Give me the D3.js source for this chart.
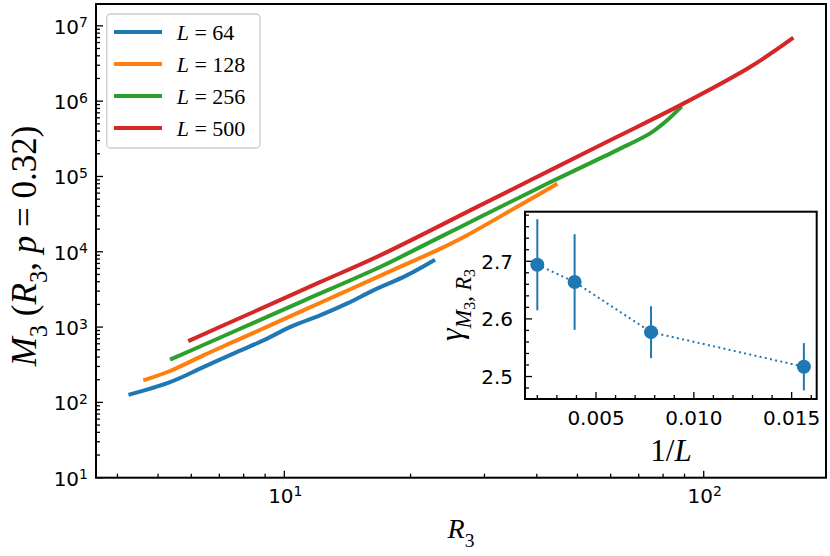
<!DOCTYPE html>
<html><head><meta charset="utf-8">
<script src="https://cdn.jsdelivr.net/npm/d3@7"></script>
<style>html,body{margin:0;padding:0;background:#fff;} svg{display:block;}</style>
</head><body><svg id="c" width="830" height="556"></svg>
<script>
// ---------------- data ----------------
const sizes = [64, 128, 256, 500];
const seriesColors = ["#1f77b4", "#ff7f0e", "#2ca02c", "#d62728"];

const R_L64  = [4.25, 5.34, 6.41, 7.70, 8.91, 10.41, 12.16, 14.09, 16.30, 19.58, 22.87];
const M_L64  = [126, 186, 294, 466, 665, 1021, 1429, 2047, 3069, 4864, 7852];

const R_L128 = [4.61, 5.34, 6.41, 7.70, 9.25, 11.10, 13.33, 16.01, 19.22, 23.09, 27.22, 35.83, 44.77];
const M_L128 = [196, 261, 421, 665, 1054, 1667, 2636, 4170, 6593, 10440, 16500, 39300, 80200];

const R_L256 = [5.34, 6.41, 8.44, 11.10, 16.91, 23.5, 29.3, 43.0, 62.0, 74.5, 81.3, 88.6];
const M_L256 = [369, 578, 1138, 2233, 6270, 15660, 28900, 83600, 222000, 373000, 540000, 853000];

const R_L500 = [5.90, 8.44, 12.16, 16.91, 29.3, 43.0, 62.0, 89.4, 129, 163.6];
const M_L500 = [652, 1587, 3945, 8950, 41300, 120500, 333600, 927000, 2840000, 6970000];

const invL     = [0.015625, 0.0078125, 0.00390625, 0.002];
const gamma    = [2.517, 2.577, 2.664, 2.694];
const gammaErr = [0.041, 0.045, 0.083, 0.079];

const mainYTickExp = [1, 2, 3, 4, 5, 6, 7];
const mainXTickExp = [1, 2];
const insetXTicks = [0.005, 0.010, 0.015];
const insetXTickLabels = ["0.005", "0.010", "0.015"];
const insetYTicks = [2.5, 2.6, 2.7];
const insetYTickLabels = ["2.5", "2.6", "2.7"];

const seriesR = [R_L64, R_L128, R_L256, R_L500];
const seriesM = [M_L64, M_L128, M_L256, M_L500];

// ---------------- drawing ----------------
const svg = d3.select("#c");
const SANS = "DejaVu Sans";
const SERIF = "Liberation Serif";
const TICK_FS = 20;

const x = d3.scaleLog().domain([3.556, 195.7]).range([96, 826]);
const y = d3.scaleLog().domain([10, Math.pow(10, 7.29)]).range([477.7, 4]);

function mathText(g, parts, size) {
  let prev = 0;
  parts.forEach(p => {
    const sh = (p.sh || 0) * size;
    g.append("tspan")
      .attr("font-style", p.it ? "italic" : "normal")
      .attr("font-size", (p.s || 1) * size)
      .attr("dy", sh - prev)
      .text(p.t);
    prev = sh;
  });
}

// lines
const line = d3.line().x(d => x(d[0])).y(d => y(d[1])).curve(d3.curveCatmullRom.alpha(0.5));
seriesR.forEach((R, i) => {
  const pts = R.map((r, j) => [r, seriesM[i][j]]);
  svg.append("path").attr("d", line(pts)).attr("fill", "none")
    .attr("stroke", seriesColors[i]).attr("stroke-width", 4).attr("stroke-linecap", "butt")
    .attr("stroke-linejoin", "round");
});

// main ticks
const xr = x.range(), yr = y.range();
const tk = svg.append("g").attr("stroke", "#000").attr("stroke-width", 1.3);
[1, 10, 100].forEach(d => {
  for (let m = 1; m <= 9; m++) {
    const v = m * d;
    if (v < x.domain()[0] || v > x.domain()[1]) continue;
    const len = m === 1 ? 7 : 4;
    tk.append("line").attr("x1", x(v)).attr("x2", x(v)).attr("y1", yr[0]).attr("y2", yr[0] - len);
  }
});
for (let e = 1; e <= 7; e++) {
  for (let m = 1; m <= 9; m++) {
    const v = m * Math.pow(10, e);
    if (v < y.domain()[0] || v > y.domain()[1]) continue;
    const len = m === 1 ? 7 : 4;
    tk.append("line").attr("y1", y(v)).attr("y2", y(v)).attr("x1", xr[0]).attr("x2", xr[0] + len);
  }
}
svg.append("rect").attr("x", xr[0]).attr("y", yr[1]).attr("width", xr[1] - xr[0]).attr("height", yr[0] - yr[1])
  .attr("fill", "none").attr("stroke", "#000").attr("stroke-width", 2);

// main tick labels
mainYTickExp.forEach(e => {
  const t = svg.append("text").attr("x", 88).attr("y", y(Math.pow(10, e)) + 8)
    .attr("text-anchor", "end").attr("font-family", SANS).attr("font-size", TICK_FS);
  t.append("tspan").text("10");
  t.append("tspan").attr("font-size", TICK_FS * 0.7).attr("dy", -6.5).text(String(e));
});
mainXTickExp.forEach(e => {
  const t = svg.append("text").attr("x", x(Math.pow(10, e)) + 1).attr("y", 502.5)
    .attr("text-anchor", "middle").attr("font-family", SANS).attr("font-size", TICK_FS);
  t.append("tspan").text("10");
  t.append("tspan").attr("font-size", TICK_FS * 0.7).attr("dy", -6.5).text(String(e));
});

// axis labels
const xl = svg.append("text").attr("x", 461).attr("y", 538.3).attr("text-anchor", "middle")
  .attr("font-family", SERIF).attr("font-size", 28);
mathText(xl, [{t: "R", it: true}, {t: "3", s: 0.7, sh: 0.3}], 28);

const yl = svg.append("text").attr("transform", "translate(36,246) rotate(-90)").attr("text-anchor", "middle")
  .attr("font-family", SERIF).attr("font-size", 35);
mathText(yl, [
  {t: "M", it: true}, {t: "3", s: 0.7, sh: 0.3},
  {t: " (", it: false}, {t: "R", it: true}, {t: "3", s: 0.7, sh: 0.3},
  {t: ", ", it: false}, {t: "p", it: true}, {t: " = 0.32)", it: false}
], 35);

// legend
const lg = svg.append("g");
lg.append("rect").attr("x", 106.7).attr("y", 14).attr("width", 153.3).attr("height", 134).attr("rx", 4)
  .attr("fill", "#fff").attr("fill-opacity", 0.8).attr("stroke", "#cccccc").attr("stroke-width", 1.3);
sizes.forEach((L, i) => {
  const ly = 32 + i * 32;
  lg.append("line").attr("x1", 114).attr("x2", 162).attr("y1", ly).attr("y2", ly)
    .attr("stroke", seriesColors[i]).attr("stroke-width", 4);
  const t = lg.append("text").attr("x", 176.7).attr("y", ly + 7.5).attr("font-family", SERIF).attr("font-size", 22);
  mathText(t, [{t: "L", it: true}, {t: " = " + L, it: false}], 22);
});

// ---------------- inset ----------------
const ix = d3.scaleLinear().domain([0.00137, 0.01628]).range([525, 816.7]);
const iy = d3.scaleLinear().domain([2.461, 2.786]).range([399, 211.7]);
const ixr = ix.range(), iyr = iy.range();
svg.append("rect").attr("x", ixr[0]).attr("y", iyr[1]).attr("width", ixr[1] - ixr[0]).attr("height", iyr[0] - iyr[1])
  .attr("fill", "#fff");

const itk = svg.append("g").attr("stroke", "#000").attr("stroke-width", 1.3);
for (let k = 2; k <= 16; k++) {
  const v = k * 0.001;
  const major = k % 5 === 0;
  itk.append("line").attr("x1", ix(v)).attr("x2", ix(v)).attr("y1", iyr[0]).attr("y2", iyr[0] - (major ? 7 : 4));
}
for (let k = 0; k <= 16; k++) {
  const vv = Math.round((2.46 + k * 0.02) * 100) / 100;
  if (vv < iy.domain()[0] || vv > iy.domain()[1]) continue;
  const major = Math.abs(vv * 10 - Math.round(vv * 10)) < 1e-6;
  itk.append("line").attr("y1", iy(vv)).attr("y2", iy(vv)).attr("x1", ixr[0]).attr("x2", ixr[0] + (major ? 7 : 4));
}

const pts = invL.map((v, i) => [v, gamma[i]]).sort((a, b) => a[0] - b[0]);
svg.append("path").attr("d", d3.line().x(d => ix(d[0])).y(d => iy(d[1]))(pts))
  .attr("fill", "none").attr("stroke", "#1f77b4").attr("stroke-width", 2).attr("stroke-dasharray", "2,3.3");
invL.forEach((v, i) => {
  svg.append("line").attr("x1", ix(v)).attr("x2", ix(v))
    .attr("y1", iy(gamma[i] - gammaErr[i])).attr("y2", iy(gamma[i] + gammaErr[i]))
    .attr("stroke", "#1f77b4").attr("stroke-width", 2);
});
invL.forEach((v, i) => {
  svg.append("circle").attr("cx", ix(v)).attr("cy", iy(gamma[i])).attr("r", 7).attr("fill", "#1f77b4");
});

svg.append("rect").attr("x", ixr[0]).attr("y", iyr[1]).attr("width", ixr[1] - ixr[0]).attr("height", iyr[0] - iyr[1])
  .attr("fill", "none").attr("stroke", "#000").attr("stroke-width", 2);

insetXTicks.forEach((v, i) => {
  svg.append("text").attr("x", ix(v)).attr("y", 424.5).attr("text-anchor", "middle")
    .attr("font-family", SANS).attr("font-size", TICK_FS).text(insetXTickLabels[i]);
});
insetYTicks.forEach((v, i) => {
  svg.append("text").attr("x", 513).attr("y", iy(v) + 7.3).attr("text-anchor", "end")
    .attr("font-family", SANS).attr("font-size", TICK_FS).text(insetYTickLabels[i]);
});

const ixl = svg.append("text").attr("x", 671).attr("y", 461).attr("text-anchor", "middle")
  .attr("font-family", SERIF).attr("font-size", 31);
mathText(ixl, [{t: "1/", it: false}, {t: "L", it: true}], 31);

const iyl = svg.append("text").attr("transform", "translate(462,305) rotate(-90)").attr("text-anchor", "middle")
  .attr("font-family", SERIF).attr("font-size", 32);
mathText(iyl, [
  {t: "γ", it: true},
  {t: "M", it: true, s: 0.7, sh: 0.28},
  {t: "3", s: 0.5, sh: 0.4},
  {t: ", ", s: 0.7, sh: 0.28},
  {t: "R", it: true, s: 0.7, sh: 0.28},
  {t: "3", s: 0.5, sh: 0.4}
], 32);
</script>
</body></html>
